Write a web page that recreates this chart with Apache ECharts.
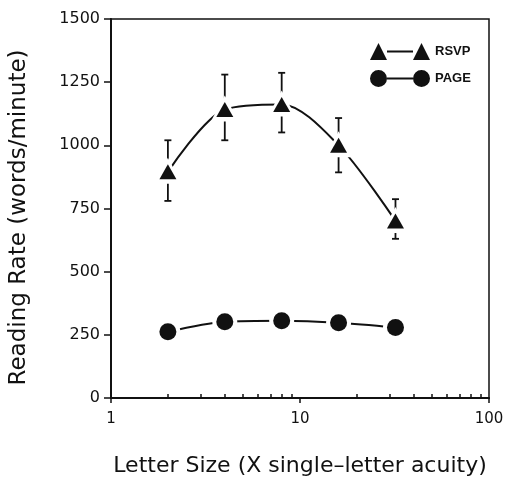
<!DOCTYPE html>
<html>
<head>
<meta charset="utf-8">
<script src="https://cdn.jsdelivr.net/npm/echarts@6/dist/echarts.min.js"></script>
<style>html,body{margin:0;padding:0;background:#fff}#c{width:507px;height:482px}</style>
</head>
<body>
<div id="c"></div>
<script>
// ---- data ----
var letterSizes = [2, 4, 8, 16, 32];
var rsvpRate = [895, 1142, 1162, 1000, 701];
var rsvpUpper = [1020, 1280, 1287, 1108, 787];
var rsvpLower = [780, 1020, 1051, 893, 630];
var pageRate = [262, 302, 306, 298, 279];
var xMajorTicks = [1, 10, 100];
var xMinorTicks = [2, 3, 4, 5, 6, 7, 8, 9, 20, 30, 40, 50, 60, 70, 80, 90];
var seriesNames = ['RSVP', 'PAGE'];

function pairs(xs, ys) { return xs.map(function (x, i) { return [x, ys[i]]; }); }

var triIcon = 'path://M0,17 L8.5,0 L17,17 Z M17,7.5 L43,7.5 L43,9.5 L17,9.5 Z M43,17 L51.5,0 L60,17 Z';
var dotIcon = 'path://M0,8.5 A8.5,8.5 0 1,0 17,8.5 A8.5,8.5 0 1,0 0,8.5 Z M17,7.5 L43,7.5 L43,9.5 L17,9.5 Z M43,8.5 A8.5,8.5 0 1,0 60,8.5 A8.5,8.5 0 1,0 43,8.5 Z';

var font = 'DejaVu Sans';
var chart = echarts.init(document.getElementById('c'), null, {renderer: 'canvas'});
chart.setOption({
  animation: false,
  backgroundColor: '#fff',
  grid: {left: 110, right: 18, top: 19, bottom: 82, show: true, borderColor: '#111', borderWidth: 1.5},
  legend: {
    orient: 'vertical', left: 365, top: 38, itemWidth: 60, itemHeight: 17, itemGap: 10,
    selectedMode: false,
    data: [{name: seriesNames[0], icon: triIcon}, {name: seriesNames[1], icon: dotIcon}],
    textStyle: {fontFamily: 'Liberation Sans', fontWeight: 'bold', fontSize: 13, color: '#111', padding: [0, 0, 0, 0]},
    itemStyle: {color: '#111', borderWidth: 0}
  },
  xAxis: [{
    type: 'log', logBase: 10, min: 1, max: 100,
    name: 'Letter Size (X single\u2013letter acuity)', nameLocation: 'middle', nameGap: 57,
    nameTextStyle: {fontFamily: font, fontSize: 22, color: '#111'},
    axisLine: {show: true, lineStyle: {color: '#111', width: 2}},
    axisTick: {show: true, inside: false, length: 5, lineStyle: {color: '#111', width: 1.5}, customValues: xMajorTicks},
    axisLabel: {fontFamily: font, fontSize: 15, color: '#111', margin: 14, customValues: xMajorTicks},
    splitLine: {show: false}, minorTick: {show: false}
  }, {
    type: 'log', logBase: 10, min: 1, max: 100, position: 'bottom', gridIndex: 0,
    axisLine: {show: false},
    axisTick: {show: true, inside: true, length: 4, lineStyle: {color: '#111', width: 1.5}, customValues: xMinorTicks},
    axisLabel: {show: false}, splitLine: {show: false}
  }],
  yAxis: {
    type: 'value', min: 0, max: 1500, interval: 250,
    name: 'Reading Rate (words/minute)', nameLocation: 'middle', nameGap: 80, nameRotate: 90,
    nameTextStyle: {fontFamily: font, fontSize: 23, color: '#111', padding: [0, 18, 0, 0]},
    axisLine: {show: true, lineStyle: {color: '#111', width: 2}},
    axisTick: {show: true, inside: false, length: 7, lineStyle: {color: '#111', width: 1.5}},
    axisLabel: {fontFamily: font, fontSize: 16, color: '#111', margin: 11, formatter: function (v) { return String(v); }},
    splitLine: {show: false}
  },
  series: [
    {
      type: 'line', name: 'rsvpLine', data: pairs(letterSizes, rsvpRate), smooth: 0.3, z: 2,
      symbol: 'none', lineStyle: {color: '#111', width: 2}, silent: true
    },
    {
      type: 'line', name: 'pageLine', data: pairs(letterSizes, pageRate), smooth: 0.3, z: 2,
      symbol: 'none', lineStyle: {color: '#111', width: 2}, silent: true
    },
    {
      type: 'custom', name: 'rsvpErr', z: 3, silent: true,
      data: letterSizes.map(function (x, i) { return [x, rsvpLower[i], rsvpUpper[i]]; }),
      renderItem: function (params, api) {
        var lo = api.coord([api.value(0), api.value(1)]);
        var hi = api.coord([api.value(0), api.value(2)]);
        var w = 3.5;
        var st = {stroke: '#111', lineWidth: 1.8};
        return {type: 'group', children: [
          {type: 'line', shape: {x1: lo[0], y1: lo[1], x2: hi[0], y2: hi[1]}, style: st},
          {type: 'line', shape: {x1: lo[0] - w, y1: lo[1], x2: lo[0] + w, y2: lo[1]}, style: st},
          {type: 'line', shape: {x1: hi[0] - w, y1: hi[1], x2: hi[0] + w, y2: hi[1]}, style: st}
        ]};
      }
    },
    {
      type: 'scatter', name: 'rsvpHalo', data: pairs(letterSizes, rsvpRate), z: 4, silent: true,
      symbol: 'triangle', symbolSize: [28, 26], symbolOffset: [0, -1],
      itemStyle: {color: '#fff', opacity: 1}
    },
    {
      type: 'scatter', name: 'pageHalo', data: pairs(letterSizes, pageRate), z: 4, silent: true,
      symbol: 'circle', symbolSize: 25,
      itemStyle: {color: '#fff', opacity: 1}
    },
    {
      type: 'scatter', name: seriesNames[0], data: pairs(letterSizes, rsvpRate), z: 5,
      symbol: 'triangle', symbolSize: [17, 15],
      itemStyle: {color: '#111', opacity: 1}
    },
    {
      type: 'scatter', name: seriesNames[1], data: pairs(letterSizes, pageRate), z: 5,
      symbol: 'circle', symbolSize: 17,
      itemStyle: {color: '#111', opacity: 1}
    }
  ]
});
</script>
</body>
</html>
